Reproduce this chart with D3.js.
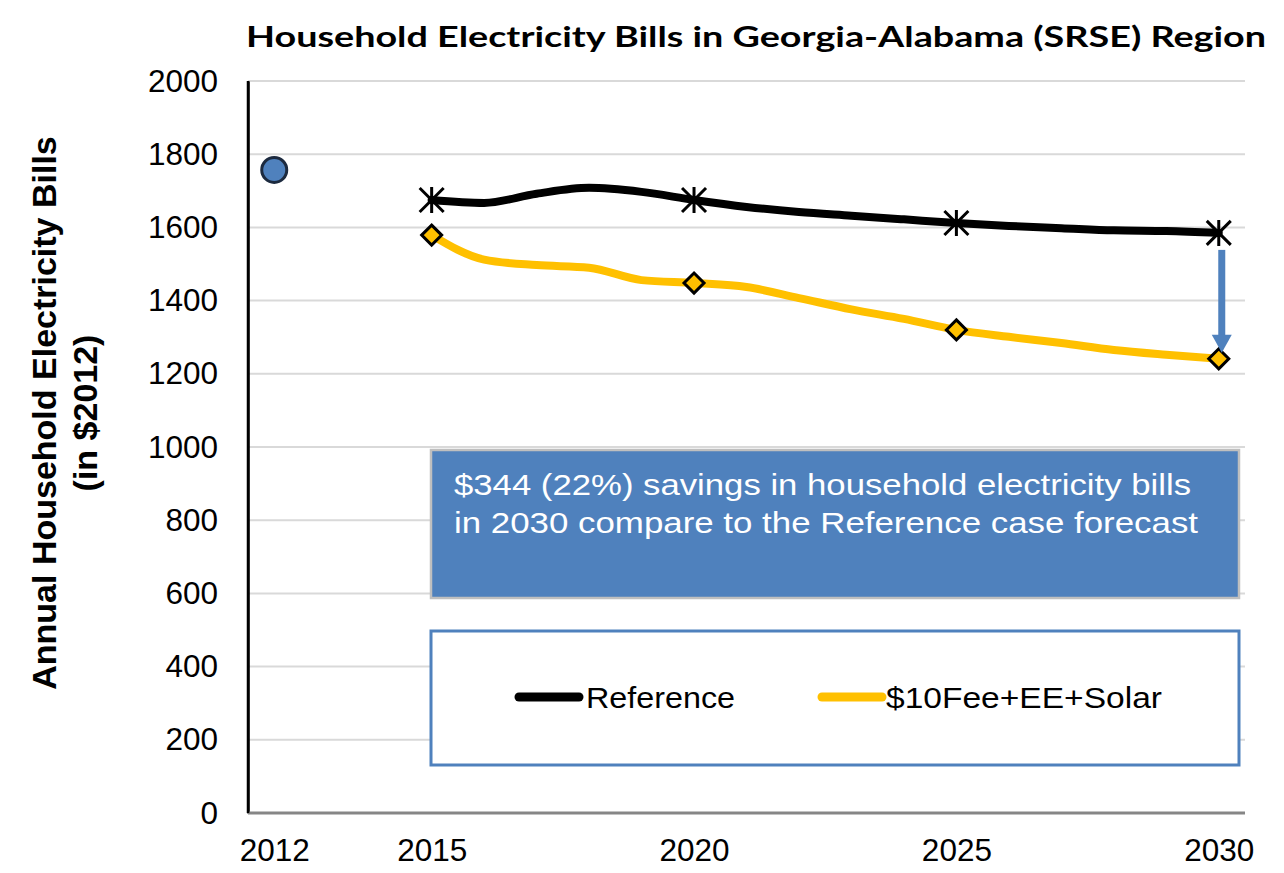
<!DOCTYPE html>
<html>
<head>
<meta charset="utf-8">
<script src="https://cdn.jsdelivr.net/npm/d3@7/dist/d3.min.js"></script>
<style>
  html, body { margin: 0; padding: 0; background: #ffffff; }
  svg { display: block; }
</style>
</head>
<body>
<svg id="chart" width="1284" height="873"></svg>
<script>
// ---------- data ----------
const years = [2015, 2016, 2017, 2018, 2019, 2020, 2021, 2022, 2023, 2024, 2025, 2026, 2027, 2028, 2029, 2030];
const referenceValues = [1675, 1667, 1692, 1708, 1697, 1675, 1656, 1642, 1632, 1622, 1612, 1604, 1598, 1592, 1590, 1585];
const solarValues     = [1579, 1512, 1497, 1490, 1456, 1448, 1437, 1407, 1376, 1350, 1320, 1301, 1284, 1265, 1252, 1241];
const markerYears = [2015, 2020, 2025, 2030];
const historicYear = [2012];
const historicValue = [1757];
const xTickLabels = [2012, 2015, 2020, 2025, 2030];
const yTickLabels = [0, 200, 400, 600, 800, 1000, 1200, 1400, 1600, 1800, 2000];
const seriesNames = ["Reference", "$10Fee+EE+Solar"];
const titleText = "Household Electricity Bills in Georgia-Alabama (SRSE) Region";
const yTitleLines = ["Annual Household Electricity Bills", "(in $2012)"];
const noteLines = ["$344 (22%) savings in household electricity bills", "in 2030 compare to the Reference case forecast"];

// ---------- layout ----------
const svg = d3.select("#chart");
const plot = { left: 248, right: 1245, top: 81, bottom: 813 };
const x = d3.scaleLinear().domain([2011.5, 2030.5]).range([plot.left, plot.right]);
const y = d3.scaleLinear().domain([0, 2000]).range([plot.bottom, plot.top]);

const BLUE = "#4F81BD";
const GOLD = "#FFC000";
const sans = "'Liberation Sans', Arial, sans-serif";

// gridlines
svg.append("g")
  .selectAll("line")
  .data(yTickLabels.filter(d => d > 0))
  .join("line")
  .attr("x1", plot.left).attr("x2", plot.right)
  .attr("y1", d => y(d)).attr("y2", d => y(d))
  .attr("stroke", "#d9d9d9").attr("stroke-width", 2);

// y axis
const yAxis = svg.append("g")
  .attr("transform", `translate(${plot.left},0)`)
  .call(d3.axisLeft(y).tickValues(yTickLabels).tickSize(0).tickPadding(30).tickFormat(d3.format("d")));
yAxis.select(".domain").attr("stroke", "#000").attr("stroke-width", 2.5);
yAxis.selectAll("text").attr("font-family", sans).attr("font-size", 31.5).attr("fill", "#000");

// x axis
const xAxis = svg.append("g")
  .attr("transform", `translate(0,${plot.bottom})`)
  .call(d3.axisBottom(x).tickValues(xTickLabels).tickSize(0).tickPadding(26).tickFormat(d3.format("d")));
xAxis.select(".domain").attr("d", `M${plot.left},0H${plot.right}`).attr("stroke", "#868686").attr("stroke-width", 3);
xAxis.selectAll("text").attr("font-family", sans).attr("font-size", 31.5).attr("fill", "#000");

// left axis line on top
svg.append("line")
  .attr("x1", plot.left).attr("x2", plot.left)
  .attr("y1", plot.top).attr("y2", plot.bottom)
  .attr("stroke", "#000").attr("stroke-width", 2.5);

// title
svg.append("text")
  .attr("x", 246).attr("y", 47)
  .attr("font-family", "Lato, 'Open Sans', sans-serif")
  .attr("font-weight", 700)
  .attr("font-size", 29)
  .attr("textLength", 1020)
  .attr("lengthAdjust", "spacingAndGlyphs")
  .text(titleText);

// y title
const yTitle = svg.append("text")
  .attr("transform", "translate(69,413) rotate(-90)")
  .attr("text-anchor", "middle")
  .attr("font-family", sans)
  .attr("font-weight", 700)
  .attr("font-size", 34);
yTitle.selectAll("tspan").data(yTitleLines).join("tspan")
  .attr("x", 0)
  .attr("dy", (d, i) => i === 0 ? -13 : 41)
  .text(d => d);

// lines
const line = d3.line().x(d => x(d[0])).y(d => y(d[1])).curve(d3.curveMonotoneX);
const refData = years.map((yr, i) => [yr, referenceValues[i]]);
const solarData = years.map((yr, i) => [yr, solarValues[i]]);

svg.append("path").datum(refData)
  .attr("d", line).attr("fill", "none")
  .attr("stroke", "#000").attr("stroke-width", 8)
  .attr("stroke-linejoin", "round").attr("stroke-linecap", "round");
svg.append("path").datum(solarData)
  .attr("d", line).attr("fill", "none")
  .attr("stroke", GOLD).attr("stroke-width", 8)
  .attr("stroke-linejoin", "round").attr("stroke-linecap", "round");

// star markers (reference)
const refMarkers = refData.filter(d => markerYears.includes(d[0]));
const s = 12;
svg.append("g").selectAll("path").data(refMarkers).join("path")
  .attr("transform", d => `translate(${x(d[0])},${y(d[1])})`)
  .attr("d", `M${-s},${-s}L${s},${s}M${-s},${s}L${s},${-s}M0,${-s - 1}L0,${s + 1}`)
  .attr("stroke", "#000").attr("stroke-width", 3).attr("fill", "none");

// diamond markers (solar)
const solarMarkers = solarData.filter(d => markerYears.includes(d[0]));
const dm = 10;
svg.append("g").selectAll("path").data(solarMarkers).join("path")
  .attr("transform", d => `translate(${x(d[0])},${y(d[1])})`)
  .attr("d", `M0,${-dm}L${dm},0L0,${dm}L${-dm},0Z`)
  .attr("fill", GOLD).attr("stroke", "#000").attr("stroke-width", 3).attr("stroke-linejoin", "miter");

// historic point
svg.append("g").selectAll("circle").data(historicYear).join("circle")
  .attr("cx", d => x(d)).attr("cy", (d, i) => y(historicValue[i]))
  .attr("r", 12.5)
  .attr("fill", BLUE).attr("stroke", "#1c2a3f").attr("stroke-width", 3);

// savings arrow
const last = years.length - 1;
const ax = x(years[last]) + 3;
const ay1 = y(referenceValues[last]) + 17;
const ay2 = y(solarValues[last]) - 6;
const headH = 18, headW = 10;
svg.append("rect")
  .attr("x", ax - 3.5).attr("y", ay1)
  .attr("width", 7).attr("height", ay2 - headH - ay1 + 1)
  .attr("fill", BLUE);
svg.append("path")
  .attr("d", `M${ax - headW},${ay2 - headH}L${ax + headW},${ay2 - headH}L${ax},${ay2}Z`)
  .attr("fill", BLUE);

// annotation box
svg.append("rect")
  .attr("x", 431).attr("y", 450).attr("width", 808).attr("height", 148)
  .attr("fill", BLUE).attr("stroke", "#bfbfbf").attr("stroke-width", 2.5);
const noteWidths = [737, 744];
svg.append("g").selectAll("text").data(noteLines).join("text")
  .attr("x", 454)
  .attr("y", (d, i) => 495 + i * 38)
  .attr("font-family", sans)
  .attr("font-size", 29)
  .attr("fill", "#ffffff")
  .attr("textLength", (d, i) => noteWidths[i])
  .attr("lengthAdjust", "spacingAndGlyphs")
  .text(d => d);

// legend box
svg.append("rect")
  .attr("x", 431).attr("y", 631).attr("width", 808).attr("height", 134)
  .attr("fill", "#ffffff").attr("stroke", BLUE).attr("stroke-width", 3);
const legendItems = [
  { name: seriesNames[0], color: "#000", x0: 519, x1: 579, tx: 586, w: 149 },
  { name: seriesNames[1], color: GOLD, x0: 822, x1: 882, tx: 886, w: 276 }
];
const lg = svg.append("g").selectAll("g").data(legendItems).join("g");
lg.append("line")
  .attr("x1", d => d.x0).attr("x2", d => d.x1)
  .attr("y1", 697).attr("y2", 697)
  .attr("stroke", d => d.color).attr("stroke-width", 9).attr("stroke-linecap", "round");
lg.append("text")
  .attr("x", d => d.tx).attr("y", 708)
  .attr("font-family", sans).attr("font-size", 29)
  .attr("fill", "#000")
  .attr("textLength", d => d.w)
  .attr("lengthAdjust", "spacingAndGlyphs")
  .text(d => d.name);
</script>
</body>
</html>
